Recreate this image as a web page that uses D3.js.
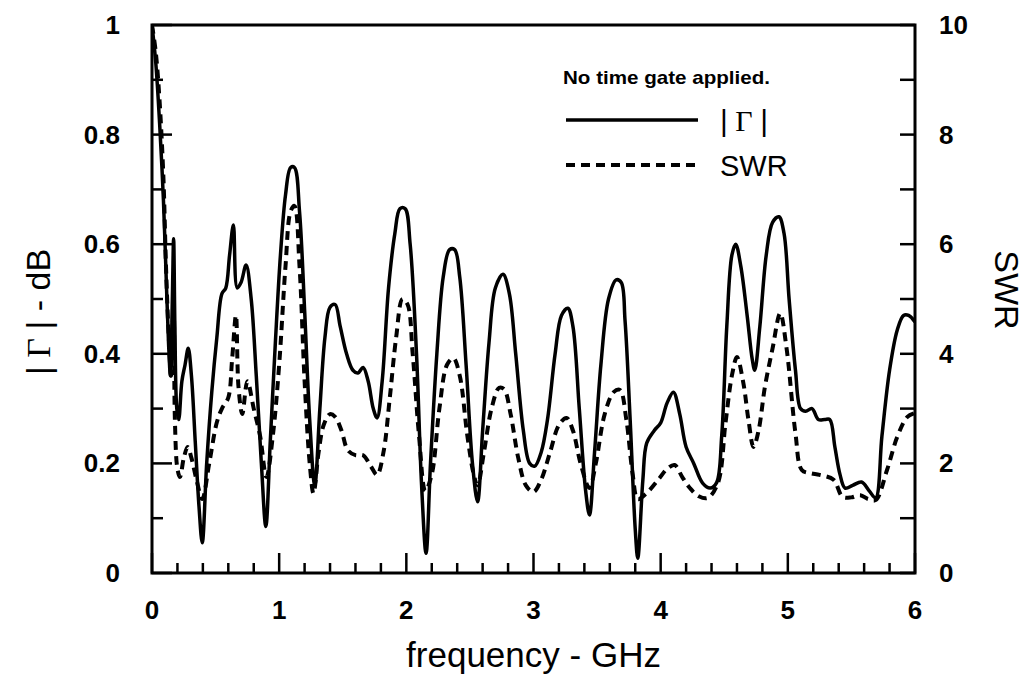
<!DOCTYPE html>
<html><head><meta charset="utf-8">
<script src="https://cdn.jsdelivr.net/npm/d3@7"></script>
<style>body{margin:0;background:#fff}svg{display:block}</style>
</head><body>
<svg id="chart" width="1031" height="689"></svg>
<script>
// ---- data ----
const gammaFreq = [0.00,0.03,0.06,0.09,0.11,0.13,0.145,0.16,0.17,0.18,0.195,0.21,0.235,0.26,0.285,0.31,0.34,0.37,0.395,0.43,0.47,0.51,0.55,0.58,0.61,0.64,0.67,0.70,0.74,0.78,0.82,0.86,0.895,0.93,0.97,1.01,1.05,1.09,1.12,1.16,1.20,1.24,1.28,1.32,1.36,1.40,1.44,1.48,1.53,1.58,1.62,1.66,1.70,1.74,1.77,1.81,1.86,1.91,1.95,1.99,2.03,2.08,2.12,2.155,2.19,2.24,2.29,2.34,2.38,2.42,2.47,2.52,2.56,2.60,2.65,2.70,2.76,2.81,2.86,2.92,2.97,3.01,3.06,3.11,3.17,3.22,3.27,3.31,3.36,3.41,3.44,3.48,3.53,3.59,3.65,3.69,3.72,3.76,3.80,3.82,3.86,3.89,3.95,4.00,4.05,4.10,4.15,4.20,4.26,4.33,4.39,4.44,4.48,4.52,4.56,4.59,4.63,4.68,4.72,4.74,4.78,4.83,4.88,4.93,4.97,5.01,5.06,5.10,5.14,5.19,5.24,5.29,5.33,5.37,5.41,5.45,5.51,5.58,5.64,5.69,5.74,5.80,5.86,5.91,5.95,6.00];
const gammaDb = [1.00,0.93,0.82,0.68,0.55,0.42,0.36,0.50,0.61,0.45,0.30,0.28,0.35,0.38,0.41,0.36,0.24,0.12,0.055,0.20,0.33,0.43,0.51,0.52,0.58,0.635,0.52,0.53,0.562,0.50,0.36,0.20,0.085,0.24,0.42,0.58,0.69,0.74,0.74,0.66,0.48,0.28,0.16,0.30,0.43,0.485,0.49,0.45,0.40,0.37,0.365,0.375,0.35,0.30,0.283,0.35,0.52,0.62,0.665,0.665,0.60,0.40,0.16,0.036,0.20,0.40,0.54,0.59,0.59,0.54,0.38,0.20,0.13,0.26,0.42,0.52,0.545,0.51,0.40,0.26,0.20,0.195,0.22,0.28,0.40,0.47,0.483,0.45,0.30,0.15,0.106,0.22,0.38,0.50,0.535,0.53,0.46,0.28,0.08,0.027,0.17,0.237,0.26,0.274,0.31,0.33,0.29,0.23,0.20,0.164,0.155,0.165,0.25,0.45,0.58,0.60,0.56,0.47,0.39,0.37,0.45,0.58,0.64,0.65,0.62,0.50,0.37,0.30,0.295,0.30,0.28,0.28,0.28,0.23,0.18,0.155,0.16,0.166,0.15,0.137,0.25,0.37,0.443,0.47,0.47,0.458];

const swrFreq = [0.00,0.03,0.06,0.09,0.11,0.13,0.15,0.17,0.18,0.20,0.22,0.25,0.28,0.31,0.35,0.395,0.45,0.51,0.55,0.60,0.63,0.66,0.68,0.71,0.75,0.80,0.85,0.90,0.95,1.00,1.05,1.09,1.12,1.16,1.20,1.24,1.27,1.31,1.35,1.40,1.44,1.49,1.54,1.60,1.66,1.72,1.77,1.82,1.87,1.92,1.97,2.01,2.05,2.10,2.15,2.20,2.26,2.32,2.37,2.42,2.48,2.53,2.56,2.61,2.67,2.73,2.77,2.82,2.88,2.94,3.00,3.06,3.13,3.20,3.26,3.31,3.37,3.44,3.49,3.56,3.63,3.68,3.73,3.78,3.82,3.89,3.99,4.05,4.11,4.17,4.23,4.30,4.37,4.45,4.51,4.56,4.60,4.65,4.69,4.73,4.77,4.82,4.88,4.94,4.99,5.06,5.11,5.18,5.25,5.36,5.43,5.50,5.57,5.63,5.69,5.78,5.86,5.94,6.00];
const swrValue = [10,9.5,8.6,7.2,5.6,4.4,3.6,5.0,2.8,1.9,1.75,2.1,2.3,2.1,1.7,1.35,2.0,2.75,3.0,3.2,3.9,4.7,3.4,2.9,3.5,3.0,2.5,1.75,2.5,3.8,5.6,6.6,6.7,5.6,3.5,2.0,1.45,2.2,2.7,2.9,2.85,2.6,2.24,2.15,2.15,1.95,1.79,2.2,3.2,4.3,5.0,4.9,4.0,2.5,1.5,1.8,3.0,3.8,3.92,3.6,2.5,1.8,1.6,2.2,3.0,3.38,3.35,2.9,2.1,1.6,1.48,1.7,2.2,2.7,2.83,2.6,2.0,1.55,2.0,2.9,3.3,3.34,2.8,1.8,1.35,1.46,1.73,1.9,1.97,1.75,1.55,1.4,1.37,1.64,2.74,3.6,3.94,3.47,2.8,2.3,2.6,3.4,4.1,4.74,4.1,2.55,1.88,1.82,1.79,1.70,1.39,1.38,1.42,1.35,1.33,1.88,2.48,2.85,2.92];

const xTickValues = [0,1,2,3,4,5,6];
const yLeftTickValues = [0,0.2,0.4,0.6,0.8,1];
const yLeftTickLabels = ["0","0.2","0.4","0.6","0.8","1"];
const yRightTickValues = [0,2,4,6,8,10];
const legendLabels = ["SWR"];
const legendTitle = "No time gate applied.";
const xTitle = "frequency - GHz";
const yLeftTitleSuffix = " - dB";
const yRightTitle = "SWR";

// ---- layout ----
const L = 152, R = 915, T = 25, B = 573;
const svg = d3.select("#chart");
const x = d3.scaleLinear().domain([0,6]).range([L,R]);
const yL = d3.scaleLinear().domain([0,1]).range([B,T]);
const yR = d3.scaleLinear().domain([0,10]).range([B,T]);
const font = "'Liberation Sans', Arial, Helvetica, sans-serif";
const serif = "'Liberation Serif', 'Times New Roman', serif";

svg.append("defs").append("clipPath").attr("id","clip")
  .append("rect").attr("x",L).attr("y",T).attr("width",R-L).attr("height",B-T);

// ticks (inward)
const g = svg.append("g").attr("stroke","#000").attr("stroke-width",2.5);
d3.range(0,31).forEach(i=>{
  const v=i*0.2, major=(i%5===0);
  g.append("line").attr("x1",x(v)).attr("x2",x(v)).attr("y1",B).attr("y2",B-(major?20:10));
});
d3.range(0,11).forEach(i=>{
  const v=i/10, major=(i%2===0);
  g.append("line").attr("x1",L).attr("x2",L+(major?20:11)).attr("y1",yL(v)).attr("y2",yL(v));
  g.append("line").attr("x1",R).attr("x2",R-15).attr("y1",yR(i)).attr("y2",yR(i));
});

// curves
const plot = svg.append("g").attr("clip-path","url(#clip)");
const gammaLine = d3.line().x(i=>x(gammaFreq[i])).y(i=>yL(gammaDb[i])).curve(d3.curveCatmullRom.alpha(0.5));
const swrLine = d3.line().x(i=>x(swrFreq[i])).y(i=>yR(swrValue[i])).curve(d3.curveCatmullRom.alpha(0.5));
plot.append("path").attr("d",swrLine(d3.range(swrFreq.length)))
  .attr("fill","none").attr("stroke","#000").attr("stroke-width",4).attr("stroke-dasharray","9,6");
plot.append("path").attr("d",gammaLine(d3.range(gammaFreq.length)))
  .attr("fill","none").attr("stroke","#000").attr("stroke-width",3.5).attr("stroke-linejoin","round");

// frame
svg.append("rect").attr("x",L).attr("y",T).attr("width",R-L).attr("height",B-T)
  .attr("fill","none").attr("stroke","#000").attr("stroke-width",3);

// tick labels
const tl = svg.append("g").attr("font-family",font).attr("font-weight","bold").attr("font-size",26).attr("fill","#000");
xTickValues.forEach(v=>tl.append("text").attr("x",x(v)).attr("y",B+46).attr("text-anchor","middle").text(v));
yLeftTickValues.forEach((v,i)=>tl.append("text").attr("x",L-32).attr("y",yL(v)+9).attr("text-anchor","end").text(yLeftTickLabels[i]));
yRightTickValues.forEach(v=>tl.append("text").attr("x",R+24).attr("y",yR(v)+9).attr("text-anchor","start").text(v));

// axis titles
svg.append("text").attr("x",(L+R)/2).attr("y",667).attr("text-anchor","middle")
  .attr("font-family",font).attr("font-size",35).text(xTitle);
const lt = svg.append("text").attr("transform","translate(50,312) rotate(-90)").attr("text-anchor","middle")
  .attr("font-family",font).attr("font-size",34);
lt.append("tspan").text("|");
lt.append("tspan").attr("font-family",serif).text(" Γ ");
lt.append("tspan").text("|" + yLeftTitleSuffix);
svg.append("text").attr("transform","translate(995,290) rotate(90)").attr("text-anchor","middle")
  .attr("font-family",font).attr("font-size",34).text(yRightTitle);

// legend
svg.append("text").attr("x",563).attr("y",84).attr("font-family",font).attr("font-weight","bold")
  .attr("font-size",19).attr("textLength",207).attr("lengthAdjust","spacingAndGlyphs").text(legendTitle);
svg.append("line").attr("x1",566).attr("x2",698).attr("y1",120).attr("y2",120).attr("stroke","#000").attr("stroke-width",3.5);
svg.append("line").attr("x1",566).attr("x2",700).attr("y1",165).attr("y2",165).attr("stroke","#000").attr("stroke-width",4).attr("stroke-dasharray","9,6");
const gl = svg.append("text").attr("x",720).attr("y",131).attr("font-family",font).attr("font-size",30);
gl.append("tspan").text("|");
gl.append("tspan").attr("font-family",serif).text(" Γ ");
gl.append("tspan").text("|");
svg.append("text").attr("x",720).attr("y",176).attr("font-family",font).attr("font-size",29).text(legendLabels[0]);
</script>
</body></html>
